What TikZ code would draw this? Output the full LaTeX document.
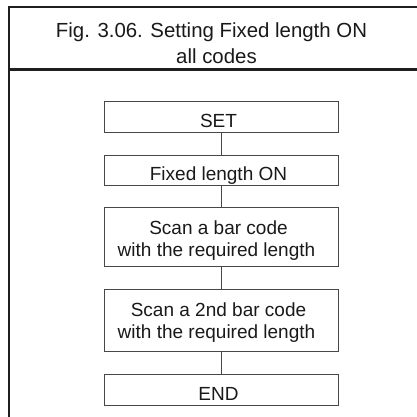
\documentclass[tikz,border=0pt]{standalone}
\usepackage{fontspec}
\setmainfont{Liberation Sans}
\begin{document}
\begin{tikzpicture}[x=1pt,y=-1pt,
  frameline/.style={line width=2.4pt, draw=black!88},
  stepbox/.style={draw=black!72, line width=0.9pt, minimum width=234pt, inner sep=0pt},
  conn/.style={draw=black!72, line width=0.9pt},
  txt/.style={font=\fontsize{19}{22}\selectfont, text=black!90, anchor=base, inner sep=0pt},
  ttl/.style={font=\fontsize{20.4}{24}\selectfont, text=black!90, anchor=base, inner sep=0pt}]
\useasboundingbox (0,0) rectangle (417,416);
% frame
\coordinate (fbl) at (8.7,417);
\coordinate (ftl) at (8.7,7);
\coordinate (ftr) at (418,7);
\coordinate (sepl) at (8.7,69.5);
\coordinate (sepr) at (418,69.5);
\draw[frameline] (fbl) -- (ftl) -- (ftr);
\draw[frameline] (sepl) -- (sepr);
% title
\node[ttl] (t1) at (211.5,37.3) {Fig. 3.06. Setting Fixed length ON};
\node[ttl] (t2) at (216.5,63.5) {all codes};
% boxes
\node[stepbox, minimum height=30.6pt] (set) at (221,117) {};
\node[stepbox, minimum height=30.7pt] (fixed) at (221,170.35) {};
\node[stepbox, minimum height=59.4pt] (scan1) at (221,237) {};
\node[stepbox, minimum height=61.7pt] (scan2) at (221,320.15) {};
\node[stepbox, minimum height=31pt] (end) at (221,389.5) {};
% texts
\node[txt] (lset) at (218.5,127.3) {SET};
\node[txt] (lfixed) at (218.5,180.7) {Fixed length ON};
\node[txt] (ls1a) at (218.5,234.8) {Scan a bar code};
\node[txt] (ls1b) at (216.5,256.3) {with the required length};
\node[txt] (ls2a) at (218.5,316.8) {Scan a 2nd bar code};
\node[txt] (ls2b) at (216.5,338.3) {with the required length};
\node[txt] (lend) at (218.5,400.5) {END};
% connectors
\draw[conn] (set.south) -- (fixed.north);
\draw[conn] (fixed.south) -- (scan1.north);
\draw[conn] (scan1.south) -- (scan2.north);
\draw[conn] (scan2.south) -- (end.north);
\end{tikzpicture}
\end{document}
